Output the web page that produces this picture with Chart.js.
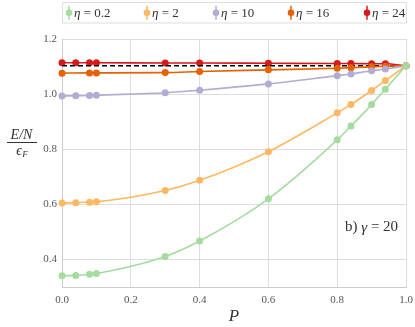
<!DOCTYPE html>
<html>
<head>
<meta charset="utf-8">
<script src="https://cdn.jsdelivr.net/npm/chart.js@4.4.1/dist/chart.umd.min.js"></script>
<style>
  html, body { margin: 0; padding: 0; background: #fff; }
  #wrap { width: 415px; height: 327px; position: relative; }
</style>
</head>
<body>
<div id="wrap"><canvas id="myChart" width="415" height="327"></canvas></div>
<script>
// data
const P = [0, 0.04, 0.08, 0.1, 0.3, 0.4, 0.6, 0.8, 0.84, 0.9, 0.94, 1.0];
const eta02 = [0.341, 0.342, 0.346, 0.349, 0.411, 0.467, 0.620, 0.834, 0.884, 0.962, 1.018, 1.103];
const eta2 = [0.605, 0.606, 0.608, 0.609, 0.650, 0.687, 0.791, 0.932, 0.962, 1.013, 1.049, 1.103];
const eta10 = [0.993, 0.994, 0.995, 0.996, 1.005, 1.014, 1.037, 1.067, 1.073, 1.085, 1.091, 1.103];
const eta16 = [1.076, null, 1.077, 1.077, 1.078, 1.082, 1.088, 1.094, 1.096, 1.099, 1.101, 1.103];
const eta24 = [1.114, 1.114, 1.114, 1.114, 1.113, 1.113, 1.112, 1.111, 1.111, 1.110, 1.110, 1.103];
const limitLine = [1.103, 1.103]; // dashed black line, P = 0 .. 1
const seriesNames = ['η = 0.2', 'η = 2', 'η = 10', 'η = 16', 'η = 24'];
const seriesColors = ['#a6dba0', '#fdb863', '#b2abd2', '#e66101', '#d7191c'];
const xTicks = [0, 0.2, 0.4, 0.6, 0.8, 1.0];
const yTicks = [0.4, 0.6, 0.8, 1.0, 1.2];

const serif = '"Liberation Serif", "DejaVu Serif", serif';
const ctx = document.getElementById('myChart');

const pts = (ys) => P.map((p, i) => ({ x: p, y: ys[i] }));

const mkSet = (i, ys) => ({
  label: seriesNames[i],
  data: pts(ys),
  borderColor: seriesColors[i],
  backgroundColor: seriesColors[i],
  borderWidth: 1.6,
  pointRadius: 3.5,
  pointHoverRadius: 3.5,
  pointBorderWidth: 0,
  cubicInterpolationMode: 'monotone',
  spanGaps: true,
  clip: false
});

// legend box, axis titles and the panel label
const extras = {
  id: 'extras',
  afterDraw(chart) {
    const c = chart.ctx;
    c.save();
    // legend
    c.fillStyle = '#fff';
    c.strokeStyle = '#dddddd';
    c.lineWidth = 1;
    c.beginPath();
    c.rect(62.5, 2.5, 344, 20.5);
    c.fill();
    c.stroke();
    const lx = [69, 147, 216, 291, 367];
    seriesNames.forEach((name, i) => {
      const x = lx[i], y = 12.7;
      c.strokeStyle = seriesColors[i];
      c.fillStyle = seriesColors[i];
      c.lineWidth = 1.5;
      c.beginPath();
      c.moveTo(x, y - 7);
      c.lineTo(x, y + 7);
      c.stroke();
      c.beginPath();
      c.arc(x, y, 3.3, 0, Math.PI * 2);
      c.fill();
      c.fillStyle = '#333';
      c.textBaseline = 'middle';
      c.textAlign = 'left';
      c.font = 'italic 13px ' + serif;
      c.fillText('η', x + 5, y + 1);
      const w = c.measureText('η').width;
      c.font = '13px ' + serif;
      c.fillText(name.slice(1), x + 5 + w, y + 1);
    });
    // y title: E/N over eps_F
    c.fillStyle = '#333';
    c.textAlign = 'center';
    c.textBaseline = 'middle';
    c.font = 'italic 14px ' + serif;
    c.fillText('E/N', 21.5, 135);
    c.strokeStyle = '#333';
    c.lineWidth = 1;
    c.beginPath();
    c.moveTo(7, 142.5);
    c.lineTo(37, 142.5);
    c.stroke();
    c.fillText('ϵ', 19, 151.5);
    c.font = 'italic 9px ' + serif;
    c.fillText('F', 25, 154.5);
    // x title
    c.font = 'italic 17px ' + serif;
    c.fillText('P', 234, 317);
    // panel label
    c.textAlign = 'left';
    c.font = '15px ' + serif;
    c.fillText('b)', 345, 227);
    let bx = 345 + c.measureText('b) ').width;
    c.font = 'italic 15px ' + serif;
    c.fillText('γ', bx, 228);
    bx += c.measureText('γ').width;
    c.font = '15px ' + serif;
    c.fillText(' = 20', bx, 227);
    c.restore();
  }
};

const grafico = new Chart(ctx, {
  type: 'line',
  data: {
    datasets: [
      mkSet(0, eta02),
      mkSet(1, eta2),
      mkSet(2, eta10),
      mkSet(3, eta16),
      {
        label: 'limit',
        data: [{ x: 0, y: limitLine[0] }, { x: 1, y: limitLine[1] }],
        borderColor: '#000',
        borderWidth: 1.6,
        borderDash: [5, 3],
        pointRadius: 0,
        clip: false
      },
      mkSet(4, eta24)
    ]
  },
  options: {
    responsive: false,
    animation: false,
    devicePixelRatio: 1,
    layout: { padding: { top: 39, right: 9, left: 0, bottom: 0 } },
    plugins: { legend: { display: false }, tooltip: { enabled: false } },
    scales: {
      x: {
        type: 'linear',
        min: 0,
        max: 1,
        afterBuildTicks: (s) => { s.ticks = xTicks.map(v => ({ value: v })); },
        afterFit: (s) => { s.height = 40; s.paddingLeft = 0; s.paddingRight = 0; },
        grid: { color: '#dddddd', drawTicks: false },
        border: { color: '#cccccc' },
        ticks: {
          padding: 7,
          color: '#555',
          font: { family: serif, size: 11 },
          callback: (v) => v.toFixed(1)
        }
      },
      y: {
        min: 0.3,
        max: 1.2,
        afterBuildTicks: (s) => { s.ticks = yTicks.map(v => ({ value: v })); },
        afterFit: (s) => { s.width = 62; s.paddingTop = 0; s.paddingBottom = 0; },
        grid: { color: '#dddddd', drawTicks: false },
        border: { color: '#cccccc' },
        ticks: {
          padding: 5,
          color: '#555',
          font: { family: serif, size: 11 },
          callback: (v) => v.toFixed(1)
        }
      }
    }
  },
  plugins: [extras]
});
</script>
</body>
</html>
